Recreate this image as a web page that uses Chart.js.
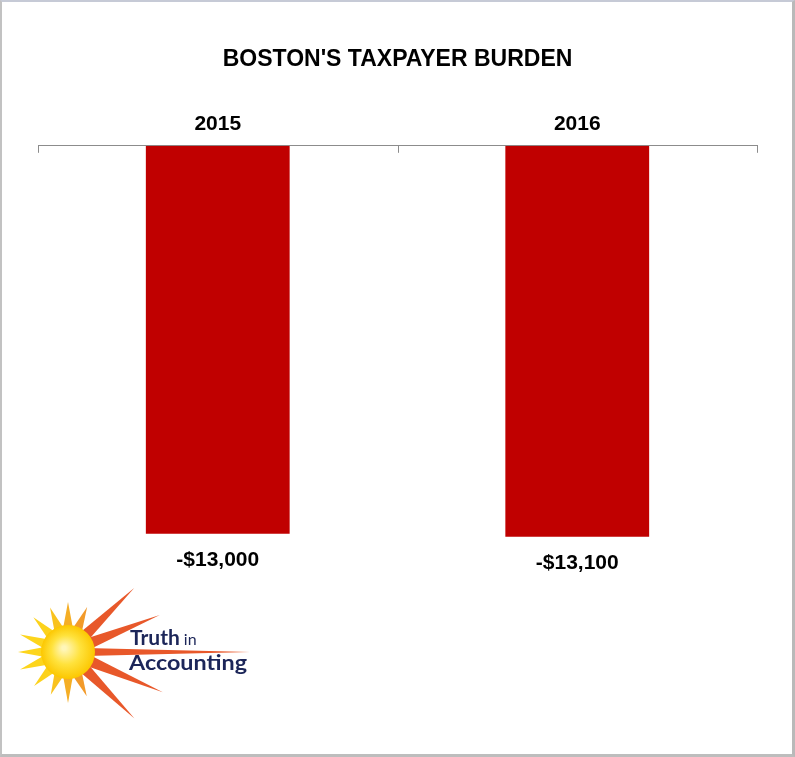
<!DOCTYPE html>
<html>
<head>
<meta charset="utf-8">
<script src="https://cdn.jsdelivr.net/npm/chart.js@4.4.1/dist/chart.umd.min.js"></script>
<style>
    html, body { margin: 0; padding: 0; background: #fff; }
    #wrap  { position: relative; width: 795px; height: 757px; }
    #chart { position: absolute; left: 0; top: 0; }
    #frame {
        position: absolute; left: 0; top: 0; width: 795px; height: 757px;
        box-sizing: border-box; border-style: solid; border-width: 2px 3px 3px 2px;
        border-color: #c6cad6 #b9b9b9 #bdbdbd #c2c2c2; pointer-events: none;
    }
</style>
</head>
<body>
<div id="wrap">
    <canvas id="chart" width="795" height="757"></canvas>
    <div id="frame"></div>
</div>
<script>
/* ── Data ── */
const years  = ['2015', '2016'];
const burden = [-13000, -13100];
const yMin = -15000;
const yMax = 0;

const barColor = '#c00000';
const axisColor = '#8c8c8c';

const fmtMoney = (v) => (v < 0 ? '-' : '') + '$' + Math.abs(v).toLocaleString('en-US');

/* ── Small tick marks hanging below the top axis ── */
const axisTicks = {
    id: 'axisTicks',
    afterDraw(chart) {
        const x = chart.scales.x, ctx = chart.ctx;
        const top = chart.chartArea.top;
        ctx.save();
        ctx.strokeStyle = axisColor;
        ctx.lineWidth = 1;
        for (let i = 0; i <= years.length; i++) {
            const px = Math.round(x.getPixelForValue(i - 0.5)) + 0.5;
            ctx.beginPath();
            ctx.moveTo(px, top);
            ctx.lineTo(px, top + 7);
            ctx.stroke();
        }
        ctx.restore();
    }
};

/* ── Value labels under each bar ── */
const valueLabels = {
    id: 'valueLabels',
    afterDatasetsDraw(chart) {
        const ctx = chart.ctx;
        const meta = chart.getDatasetMeta(0);
        ctx.save();
        ctx.fillStyle = '#000';
        ctx.font = 'bold 20px "Liberation Sans", Arial, sans-serif';
        ctx.textAlign = 'center';
        ctx.textBaseline = 'middle';
        meta.data.forEach((bar, i) => {
            const txt = fmtMoney(burden[i]);
            const sx = 83 / ctx.measureText('-$13,000').width;
            ctx.save();
            ctx.translate(bar.x, bar.y + 26.5);
            ctx.scale(sx, 1);
            ctx.fillText(txt, 0, 0);
            ctx.restore();
        });
        ctx.restore();
    }
};

/* ── Truth in Accounting logo ── */
function drawLogo(ctx) {
    const cx = 68, cy = 652;
    // [angle deg, length, half base width, colour]
    const rays = [
        [0, 182, 4, '#e8582a'],
        [-44, 92, 6, '#e8582a'],
        [-22, 99, 6, '#e8582a'],
        [23, 103, 6, '#e8582a'],
        [45, 94, 6, '#e8582a'],
        [-67, 49, 6, '#f29a2a'],
        [67, 48, 6, '#f29a2a'],
        [-90, 50, 6, '#f5ae25'],
        [90, 51, 6, '#f5ae25'],
        [-112, 48, 6, '#f9c21e'],
        [112, 46, 6, '#f9c21e'],
        [-135, 49, 6, '#fcd21c'],
        [135, 48, 6, '#fcd21c'],
        [-160, 51, 6, '#fdd51c'],
        [160, 51, 6, '#fdd51c'],
        [180, 50, 6, '#fdd51c'],
    ];
    ctx.save();
    rays.forEach(([a, len, w, col]) => {
        const r = a * Math.PI / 180;
        const ux = Math.cos(r), uy = Math.sin(r);
        const bx = cx + ux * 18, by = cy + uy * 18;
        ctx.fillStyle = col;
        ctx.beginPath();
        ctx.moveTo(cx + ux * len, cy + uy * len);
        ctx.lineTo(bx - uy * w, by + ux * w);
        ctx.lineTo(bx + uy * w, by - ux * w);
        ctx.closePath();
        ctx.fill();
    });
    const g = ctx.createRadialGradient(cx - 4, cy - 4, 2, cx, cy, 27);
    g.addColorStop(0, '#fff6b8');
    g.addColorStop(0.5, '#ffe23c');
    g.addColorStop(1, '#fcc700');
    ctx.fillStyle = g;
    ctx.beginPath();
    ctx.arc(cx, cy, 27, 0, Math.PI * 2);
    ctx.fill();

    ctx.fillStyle = '#1c2659';
    ctx.textBaseline = 'alphabetic';
    ctx.textAlign = 'left';
    ctx.font = 'bold 21px Lato, "Open Sans", sans-serif';
    ctx.fillText('Truth', 130, 645);
    const tw = ctx.measureText('Truth').width;
    ctx.font = '16px Lato, "Open Sans", sans-serif';
    ctx.fillText('in', 130 + tw + 4, 645);
    ctx.font = 'bold 21px Lato, "Open Sans", sans-serif';
    const aw = ctx.measureText('Accounting').width;
    ctx.translate(129, 670);
    ctx.scale(118 / aw, 1);
    ctx.fillText('Accounting', 0, 0);
    ctx.restore();
}

const logo = {
    id: 'logo',
    afterDraw(chart) { drawLogo(chart.ctx); }
};

/* ── Chart ── */
new Chart(document.getElementById('chart').getContext('2d'), {
    type: 'bar',
    data: {
        labels: years,
        datasets: [{
            data: burden,
            backgroundColor: barColor,
            borderWidth: 0,
            categoryPercentage: 1,
            barPercentage: 0.4,
        }],
    },
    options: {
        responsive: false,
        animation: false,
        layout: { padding: { left: 38, right: 38, top: 0, bottom: 163.5 } },
        plugins: {
            legend: { display: false },
            tooltip: { enabled: false },
            title: {
                display: true,
                text: "BOSTON'S TAXPAYER BURDEN",
                color: '#000',
                font: { family: '"Liberation Sans", Arial, sans-serif', size: 23, weight: 'bold' },
                padding: { top: 46, bottom: 29 },
            },
        },
        scales: {
            x: {
                position: 'top',
                grid: { display: false, drawTicks: false },
                border: { display: true, color: axisColor, width: 1 },
                ticks: {
                    color: '#000',
                    padding: 9,
                    font: { family: '"Liberation Sans", Arial, sans-serif', size: 21, weight: 'bold' },
                },
            },
            y: { display: false, min: yMin, max: yMax },
        },
    },
    plugins: [axisTicks, valueLabels, logo],
});
</script>
</body>
</html>
